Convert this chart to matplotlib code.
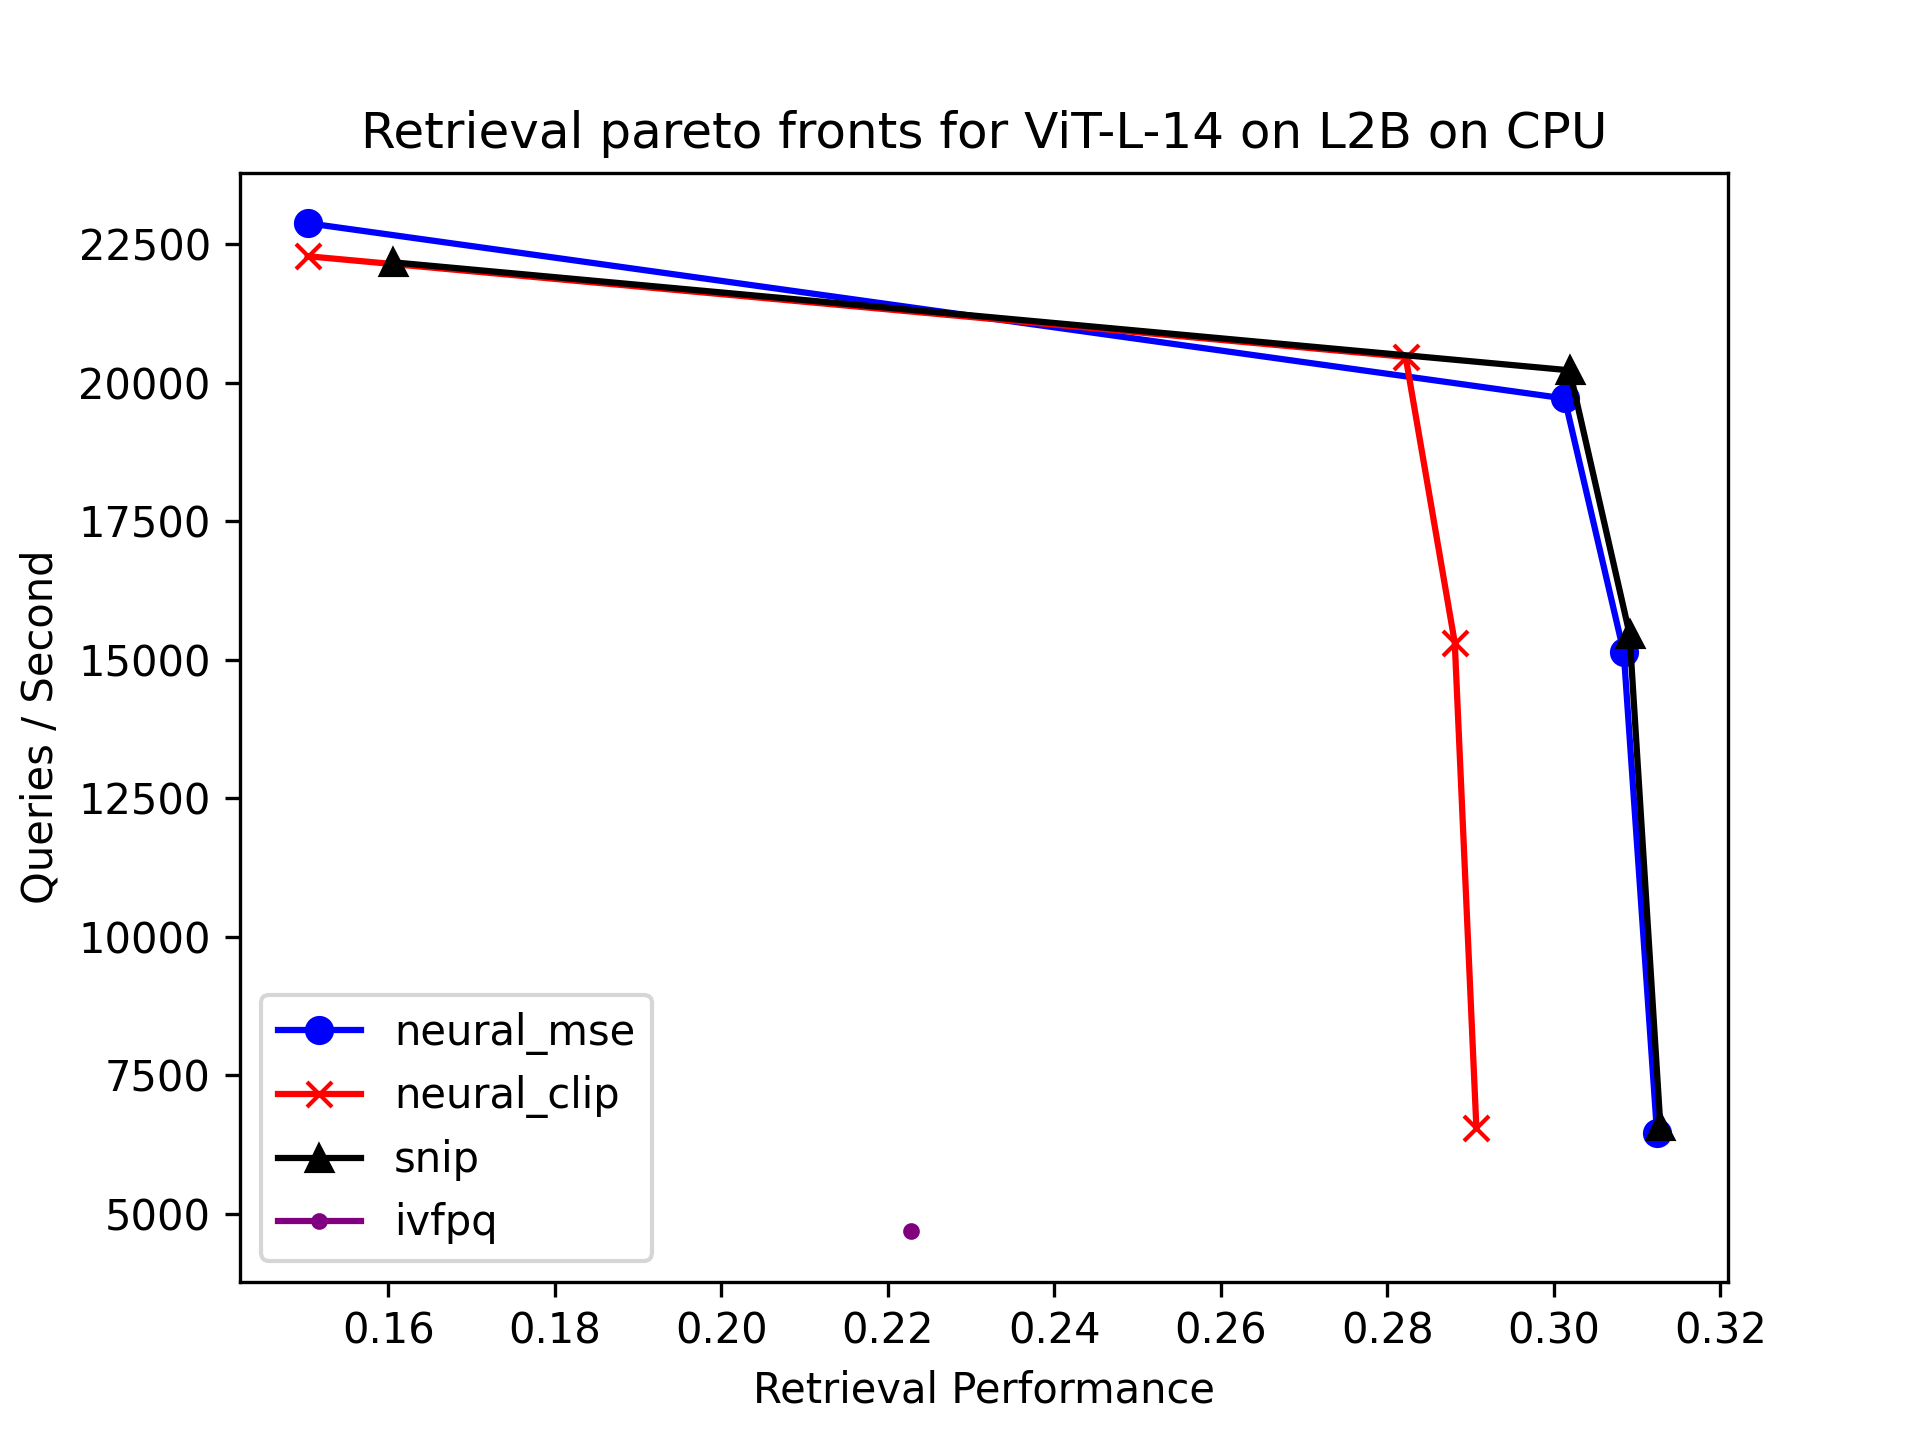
import matplotlib
matplotlib.use('Agg')
import matplotlib.pyplot as plt

# values
mse_x = [0.1503, 0.3013, 0.3084, 0.3124]
mse_y = [22875, 19713, 15132, 6462]

clip_x = [0.1503, 0.2822, 0.2881, 0.2907]
clip_y = [22279, 20464, 15309, 6550]

snip_x = [0.1606, 0.3019, 0.3091, 0.3128]
snip_y = [22169, 20221, 15464, 6595]

ivfpq_x = [0.2228]
ivfpq_y = [4691]

fig, ax = plt.subplots(figsize=(6.4, 4.8))
ax.plot(mse_x, mse_y, marker='o', color='blue', label='neural_mse')
ax.plot(clip_x, clip_y, marker='x', color='red', label='neural_clip')
ax.plot(snip_x, snip_y, marker='^', color='black', label='snip')
ax.plot(ivfpq_x, ivfpq_y, marker='.', color='purple', label='ivfpq')

ax.set_title('Retrieval pareto fronts for ViT-L-14 on L2B on CPU')
ax.set_xlabel('Retrieval Performance')
ax.set_ylabel('Queries / Second')
ax.legend()

fig.savefig('out.png', dpi=300)
